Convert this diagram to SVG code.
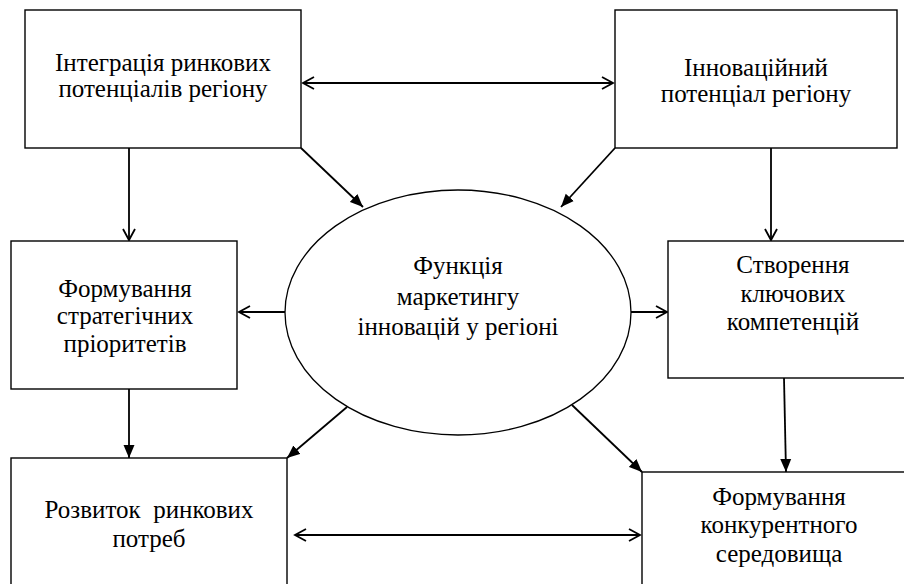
<svg xmlns="http://www.w3.org/2000/svg" width="904" height="584" viewBox="0 0 904 584">
<defs>
<marker id="open" markerUnits="userSpaceOnUse" markerWidth="14" markerHeight="16" refX="12" refY="7" orient="auto-start-reverse" viewBox="0 0 14 14">
<path d="M1,1 L12,7 L1,13" fill="none" stroke="#000" stroke-width="1.8"/>
</marker>
<marker id="fill" markerUnits="userSpaceOnUse" markerWidth="14" markerHeight="12" refX="13" refY="6" orient="auto" viewBox="0 0 14 12">
<path d="M0,0.5 L13,6 L0,11.5 Z" fill="#000"/>
</marker>
<style>
.box{fill:#fff;stroke:#000;stroke-width:1.4}
.c{fill:none;stroke:#000;stroke-width:1.8}
.t{font-family:'Liberation Serif','Times New Roman',serif;font-size:25px;fill:#000;text-anchor:middle}
</style>
</defs>
<rect width="904" height="584" fill="#fff"/>
<g id="connectors">
<line class="c" x1="303" y1="83" x2="613" y2="83" marker-start="url(#open)" marker-end="url(#open)"/>
<line class="c" x1="129" y1="148" x2="129" y2="240" marker-end="url(#open)"/>
<line class="c" x1="771" y1="148" x2="771" y2="240" marker-end="url(#open)"/>
<line class="c" x1="301" y1="148" x2="363" y2="207" marker-end="url(#fill)"/>
<line class="c" x1="615" y1="148" x2="561" y2="207" marker-end="url(#fill)"/>
<line class="c" x1="285" y1="312" x2="239" y2="312" marker-end="url(#open)"/>
<line class="c" x1="631" y1="312" x2="667" y2="312" marker-end="url(#open)"/>
<line class="c" x1="129" y1="389" x2="129" y2="458" marker-end="url(#fill)"/>
<line class="c" x1="784" y1="378" x2="786" y2="472" marker-end="url(#fill)"/>
<line class="c" x1="347" y1="407" x2="287" y2="458" marker-end="url(#fill)"/>
<line class="c" x1="572" y1="405" x2="642" y2="472" marker-end="url(#fill)"/>
<line class="c" x1="295" y1="535" x2="640" y2="535" marker-start="url(#open)" marker-end="url(#open)"/>
</g>
<g id="n1">
<rect class="box" x="25" y="10" width="276" height="138"/>
<text class="t" x="163" y="71">Інтеграція ринкових</text>
<text class="t" x="163" y="97">потенціалів регіону</text>
</g>
<g id="n2">
<rect class="box" x="615" y="10" width="282" height="138"/>
<text class="t" x="756" y="76">Інноваційний</text>
<text class="t" x="756" y="102">потенціал регіону</text>
</g>
<g id="n3">
<rect class="box" x="11" y="241" width="226" height="148"/>
<text class="t" x="125" y="297">Формування</text>
<text class="t" x="125" y="324">стратегічних</text>
<text class="t" x="125" y="352">пріоритетів</text>
</g>
<g id="n4">
<rect class="box" x="668" y="241" width="250" height="137"/>
<text class="t" x="793" y="273">Створення</text>
<text class="t" x="793" y="302">ключових</text>
<text class="t" x="793" y="330">компетенцій</text>
</g>
<g id="n5">
<ellipse cx="458" cy="312.5" rx="173" ry="122.5" fill="#fff" stroke="#000" stroke-width="1.3"/>
<text class="t" x="458" y="274">Функція</text>
<text class="t" x="458" y="305">маркетингу</text>
<text class="t" x="458" y="335">інновацій у регіоні</text>
</g>
<g id="n6">
<rect class="box" x="11" y="458" width="276" height="140"/>
<text class="t" x="149" y="518" xml:space="preserve">Розвиток  ринкових</text>
<text class="t" x="149" y="547">потреб</text>
</g>
<g id="n7">
<rect class="box" x="642" y="472" width="274" height="130"/>
<text class="t" x="779" y="505">Формування</text>
<text class="t" x="779" y="533">конкурентного</text>
<text class="t" x="779" y="562">середовища</text>
</g>
</svg>
